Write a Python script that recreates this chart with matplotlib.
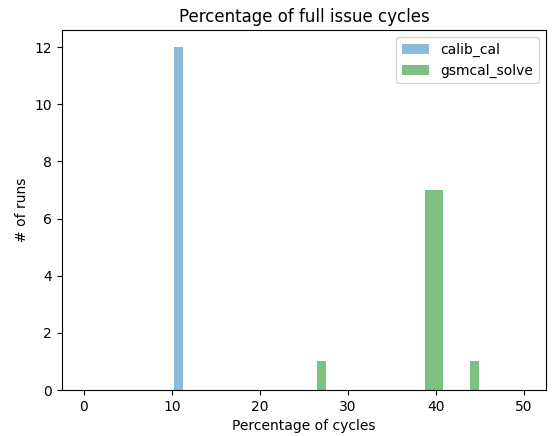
import numpy as np
import matplotlib
matplotlib.use('Agg')
import matplotlib.pyplot as plt

# bins of the histogram: 49 bins between 0 and 50
bins = np.linspace(0, 50, 50)

# calib_cal: percentage value and number of runs
calib_pct = [10.7]
calib_runs = [12]

# gsmcal_solve: percentage value and number of runs
gsmcal_pct = [27.0, 39.3, 40.3, 44.4]
gsmcal_runs = [1, 7, 7, 1]

fig = plt.figure(figsize=(5.52, 4.36), dpi=100)
ax = fig.add_axes([0.112, 0.1055, 0.877, 0.8255])

ax.hist(calib_pct, bins=bins, weights=calib_runs, alpha=0.5, label='calib_cal')
ax.hist(gsmcal_pct, bins=bins, weights=gsmcal_runs, alpha=0.5, color='g',
        label='gsmcal_solve')

ax.set_title('Percentage of full issue cycles')
ax.set_xlabel('Percentage of cycles')
ax.set_ylabel('# of runs')
ax.set_xlim(-2.5, 52.5)
ax.set_ylim(0, 12.6)
ax.legend(loc='upper right')

fig.savefig('out.png', dpi=100)
